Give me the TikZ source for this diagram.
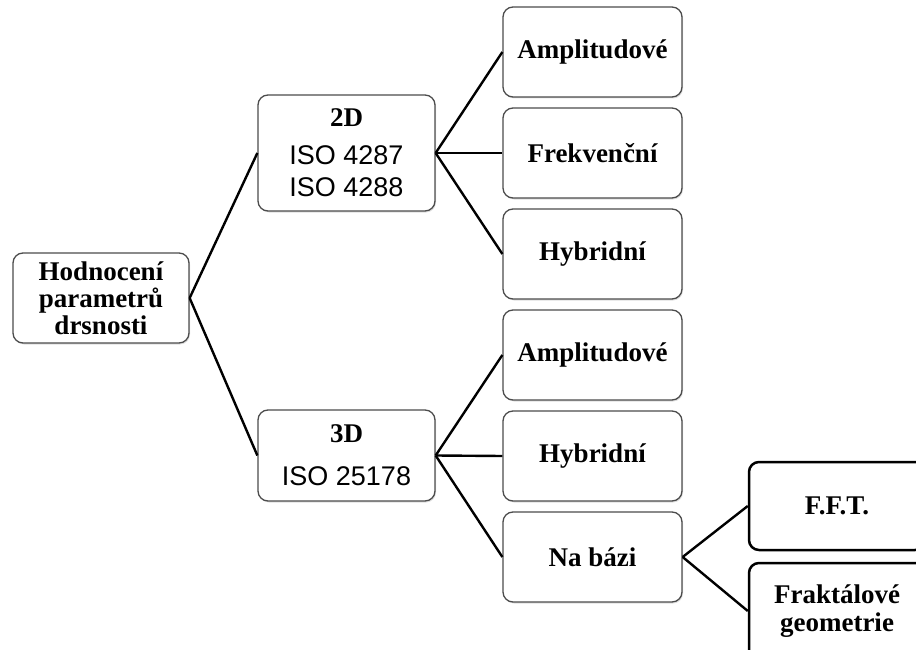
\documentclass[tikz,border=0pt]{standalone}
\usepackage{fontspec}
\setmainfont{Liberation Serif}
\newfontfamily\arialfont{Liberation Sans}
\newcommand\isotext[1]{{\arialfont\mdseries #1}}
\usetikzlibrary{shadows}
\begin{document}
\begin{tikzpicture}[x=1pt,y=-1pt,
  box/.style={draw=black!70, line width=1.3pt, rounded corners=10pt, fill=white,
    minimum width=177pt, minimum height=90pt, align=center, inner sep=2pt,
    font=\bfseries\fontsize{27}{27}\selectfont,
    drop shadow={shadow xshift=1pt, shadow yshift=-1.5pt, opacity=0.25}},
  darkbox/.style={draw=black, line width=2.5pt, rounded corners=10pt, fill=white,
    minimum width=176pt, minimum height=88pt, align=center, inner sep=2pt,
    font=\bfseries\fontsize{27}{28}\selectfont},
  conn/.style={draw=black, line width=2.4pt}]
\useasboundingbox (0,0) rectangle (916,650);
\node[box, minimum width=176pt] (root) at (101,298) {Hodnocení\\parametrů\\drsnosti};
\node[box, minimum height=116pt, font=\bfseries\fontsize{27}{32}\selectfont] (d2) at (346.5,153)
  {2D\\[6pt]\isotext{ISO 4287}\\\isotext{ISO 4288}};
\node[box, minimum height=91pt, font=\bfseries\fontsize{27}{32}\selectfont] (d3) at (346.5,455.5)
  {3D\\[11pt]\isotext{ISO 25178}};
\node[box, minimum width=179pt] (a1) at (592.5,52) {Amplitudové};
\node[box, minimum width=179pt] (f1) at (592.5,153) {Frekvenční};
\node[box, minimum width=179pt] (h1) at (592.5,254) {Hybridní};
\node[box, minimum width=179pt] (a2) at (592.5,355) {Amplitudové};
\node[box, minimum width=179pt] (h2) at (592.5,456) {Hybridní};
\node[box, minimum width=179pt] (nb) at (592.5,557) {Na bázi};
\node[darkbox] (fft) at (837,506) {F.F.T.};
\node[darkbox, minimum height=96pt] (fr) at (837,611) {Fraktálové\\geometrie};
\draw[conn] (root.east) -- (d2.west);
\draw[conn] (root.east) -- (d3.west);
\draw[conn] (d2.east) -- (a1.west);
\draw[conn] (d2.east) -- (f1.west);
\draw[conn] (d2.east) -- (h1.west);
\draw[conn] (d3.east) -- (a2.west);
\draw[conn] (d3.east) -- (h2.west);
\draw[conn] (d3.east) -- (nb.west);
\draw[conn] (nb.east) -- (fft.west);
\draw[conn] (nb.east) -- (fr.west);
\end{tikzpicture}
\end{document}
